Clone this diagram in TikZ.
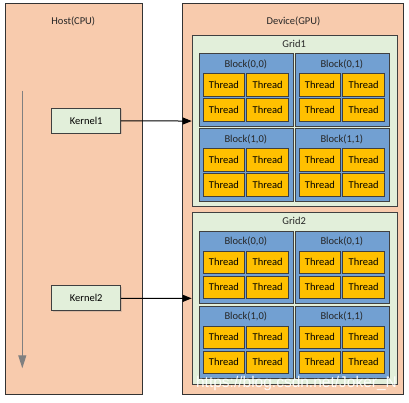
\documentclass[tikz,border=0pt]{standalone}
\usepackage{fontspec}
\setmainfont{Carlito}
\newfontfamily\wmfont{Liberation Sans}
\usetikzlibrary{arrows.meta,shadows}
\definecolor{peach}{HTML}{F8CBAD}
\definecolor{gridgreen}{HTML}{E2EFDA}
\definecolor{blockblue}{HTML}{72A0D2}
\definecolor{threadyel}{HTML}{FFC000}
\definecolor{edge}{HTML}{404040}
\begin{document}
\begin{tikzpicture}[x=1pt,y=-1pt,
  font=\fontsize{10.5}{12}\selectfont,
  panel/.style={draw=black!80, fill=peach, line width=0.8pt, anchor=north west, inner sep=0pt},
  gridbox/.style={draw=edge, fill=gridgreen, line width=0.8pt, anchor=north west, inner sep=0pt, minimum width=205pt, minimum height=171.3pt},
  blockbox/.style={draw=edge, fill=blockblue, line width=0.8pt, anchor=north west, inner sep=0pt, minimum width=93.5pt, minimum height=72.7pt},
  threadbox/.style={draw=edge, fill=threadyel, line width=0.8pt, anchor=north west, inner sep=0pt, minimum width=41.7pt, minimum height=22.7pt},
  kernelbox/.style={draw=edge, fill=gridgreen, line width=0.8pt, inner sep=0pt, minimum width=69pt, minimum height=25pt,
    drop shadow={shadow xshift=1.2pt, shadow yshift=-1.2pt, opacity=0.25}},
  lbl/.style={inner sep=0pt, text=black!85},
  launch/.style={draw=black, line width=1pt, -{Triangle[length=9pt,width=7pt]}},
  timeline/.style={draw=black!50, line width=1pt, -{Triangle[length=13pt,width=8pt]}}
]
\useasboundingbox (0,0) rectangle (409,403);
\node[panel, minimum width=136.7pt, minimum height=391pt] (host) at (5,3) {};
\node[panel, minimum width=221pt, minimum height=391pt] (device) at (181.7,3) {};
\node[lbl] (hostlbl) at (73.3,21) {Host(CPU)};
\node[lbl] (devlbl) at (293.5,21) {Device(GPU)};
\foreach \g/\gy in {1/35,2/212.3}{
  \node[gridbox] (grid\g) at (191.7,\gy) {};
  \node[lbl] (gridlbl\g) at (294.2,\gy+9) {Grid\g};
  \foreach \r in {0,1}{
    \foreach \c in {0,1}{
      \pgfmathsetmacro{\bx}{199+96*\c}
      \pgfmathsetmacro{\by}{\gy+18.3+75*\r}
      \node[blockbox] (b\g\r\c) at (\bx,\by) {};
      \node[lbl] (bl\g\r\c) at (\bx+46.75,\by+11) {Block(\r,\c)};
      \foreach \tr in {0,1}{
        \foreach \tc in {0,1}{
          \node[threadbox] (t\g\r\c\tr\tc) at (\bx+3.7+43.7*\tc,\by+20+25*\tr) {Thread};
        }
      }
    }
  }
}
\node[kernelbox] (k1) at (86.2,120.8) {Kernel1};
\node[kernelbox] (k2) at (86.2,298.3) {Kernel2};
\draw[launch] (k1.east) -- (grid1.west);
\draw[launch] (k2.east) -- (grid2.west);
\coordinate (tstart) at (22.3,90.7);
\coordinate (tend) at (22.3,368.3);
\draw[timeline] (tstart) -- (tend);
\node[inner sep=0pt, text=white, opacity=0.9, font=\wmfont\fontsize{15.5}{17}\selectfont] (wm) at (296.5,383) {https://blog.csdn.net/Joker\_N};
\end{tikzpicture}
\end{document}
